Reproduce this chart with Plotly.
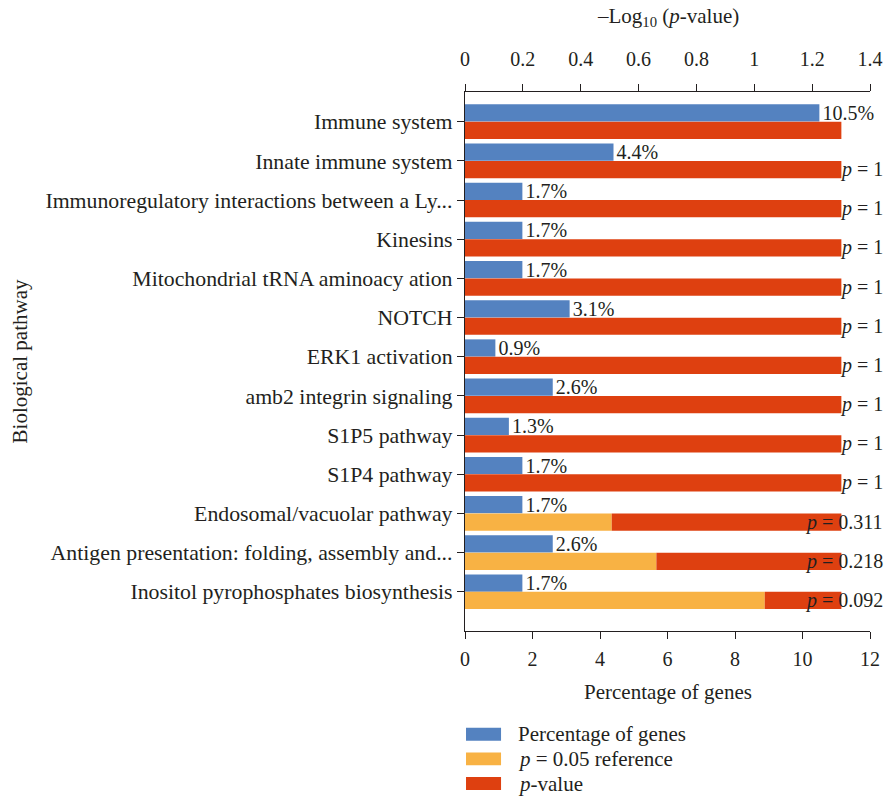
import math
import plotly.graph_objects as go

# Pathways, top to bottom
pathways = [
    "Immune system",
    "Innate immune system",
    "Immunoregulatory interactions between a Ly...",
    "Kinesins",
    "Mitochondrial tRNA aminoacy ation",
    "NOTCH",
    "ERK1 activation",
    "amb2 integrin signaling",
    "S1P5 pathway",
    "S1P4 pathway",
    "Endosomal/vacuolar pathway",
    "Antigen presentation: folding, assembly and...",
    "Inositol pyrophosphates biosynthesis",
]
# Percentage of genes in each pathway
gene_pct = [10.5, 4.4, 1.7, 1.7, 1.7, 3.1, 0.9, 2.6, 1.3, 1.7, 1.7, 2.6, 1.7]
# Pathway p-values (None = not labelled)
p_values = [None, 1, 1, 1, 1, 1, 1, 1, 1, 1, 0.311, 0.218, 0.092]
p_labels = ["", "1", "1", "1", "1", "1", "1", "1", "1", "1", "0.311", "0.218", "0.092"]
# Significance threshold
p_ref = 0.05

BLUE = "#5482c0"
ORANGE = "#f8b244"
RED = "#de4010"
INK = "#231f20"
FONT = "Liberation Serif"
TXT = 21
TICK = 20

idx = list(range(len(pathways)))
ref_len = -math.log10(p_ref)
neglog = [0.0 if p is None else -math.log10(p) for p in p_values]
remain = [ref_len - v for v in neglog]

fig = go.Figure()

fig.add_trace(go.Bar(
    y=idx, x=gene_pct, orientation="h", xaxis="x", yaxis="y",
    marker=dict(color=BLUE, line=dict(width=0)),
    offset=-0.445, width=0.44,
    text=[f"{v}%" for v in gene_pct], textposition="outside",
    textfont=dict(family=FONT, size=TICK, color=INK),
    constraintext="none", cliponaxis=False,
    name="Percentage of genes", showlegend=False,
))
fig.add_trace(go.Bar(
    y=idx, x=neglog, orientation="h", xaxis="x2", yaxis="y",
    marker=dict(color=ORANGE, line=dict(width=0)),
    offset=0.0, width=0.44,
    name="p = 0.05 reference", showlegend=False,
))
fig.add_trace(go.Bar(
    y=idx, x=remain, base=neglog, orientation="h", xaxis="x2", yaxis="y",
    marker=dict(color=RED, line=dict(width=0)),
    offset=0.0, width=0.44,
    name="p-value", showlegend=False,
))

annotations = []
# p-value labels, right-aligned past the plot edge
for i, lab in enumerate(p_labels):
    if lab:
        annotations.append(dict(
            xref="paper", yref="y", x=1.037, y=i + 0.22,
            xanchor="right", yanchor="middle", showarrow=False,
            text=f"<i>p</i> = {lab}",
            font=dict(family=FONT, size=TICK, color=INK),
        ))

# Axis titles
annotations += [
    dict(xref="paper", yref="paper", x=0.5, y=1.139, showarrow=False,
         xanchor="center", yanchor="middle",
         text="–Log<sub>10</sub> (<i>p</i>-value)",
         font=dict(family=FONT, size=TXT, color=INK)),
    dict(xref="paper", yref="paper", x=0.5, y=-0.113, showarrow=False,
         xanchor="center", yanchor="middle",
         text="Percentage of genes",
         font=dict(family=FONT, size=TXT, color=INK)),
    dict(xref="paper", yref="paper", x=-1.099, y=0.5, showarrow=False,
         xanchor="center", yanchor="middle", textangle=-90,
         text="Biological pathway",
         font=dict(family=FONT, size=TXT, color=INK)),
]

# Legend drawn as swatches + labels
legend_items = [
    (BLUE, "Percentage of genes"),
    (ORANGE, "<i>p</i> = 0.05 reference"),
    (RED, "<i>p</i>-value"),
]
shapes = []
for k, (col, lab) in enumerate(legend_items):
    y0 = -0.1794 - k * 0.0458
    y1 = y0 - 0.0241
    shapes.append(dict(type="rect", xref="paper", yref="paper",
                       x0=0.0025, x1=0.089, y0=y1, y1=y0,
                       fillcolor=col, line=dict(width=0)))
    annotations.append(dict(xref="paper", yref="paper", x=0.126, y=(y0 + y1) / 2,
                            xanchor="left", yanchor="middle", showarrow=False,
                            text=lab, font=dict(family=FONT, size=TXT, color=INK)))

axis_common = dict(
    showgrid=False, zeroline=False, showline=True, linecolor=INK, linewidth=1.2,
    ticks="outside", ticklen=7, tickwidth=1.2, tickcolor=INK, automargin=False,
    tickfont=dict(family=FONT, size=TICK, color=INK),
)

fig.update_layout(
    width=886, height=797,
    margin=dict(l=465, r=16, t=92, b=166),
    paper_bgcolor="white", plot_bgcolor="white",
    barmode="overlay",
    font=dict(family=FONT, color=INK),
    xaxis=dict(range=[0, 12], tickvals=[0, 2, 4, 6, 8, 10, 12],
               ticklabelstandoff=3, **axis_common),
    xaxis2=dict(range=[0, 1.4], overlaying="x", side="top", anchor="y",
                tickvals=[0, 0.2, 0.4, 0.6, 0.8, 1, 1.2, 1.4],
                ticktext=["0", "0.2", "0.4", "0.6", "0.8", "1", "1.2", "1.4"],
                ticklabelstandoff=10, **axis_common),
    yaxis=dict(range=[13.0, -0.76], tickvals=idx, ticktext=pathways,
               showgrid=False, zeroline=False, showline=True, linecolor=INK, linewidth=1.2,
               ticks="outside", ticklen=7, tickwidth=1.2, tickcolor=INK, automargin=False,
               tickfont=dict(family=FONT, size=21.8, color=INK)),
    annotations=annotations,
    shapes=shapes,
)

fig.write_html("out.html")
